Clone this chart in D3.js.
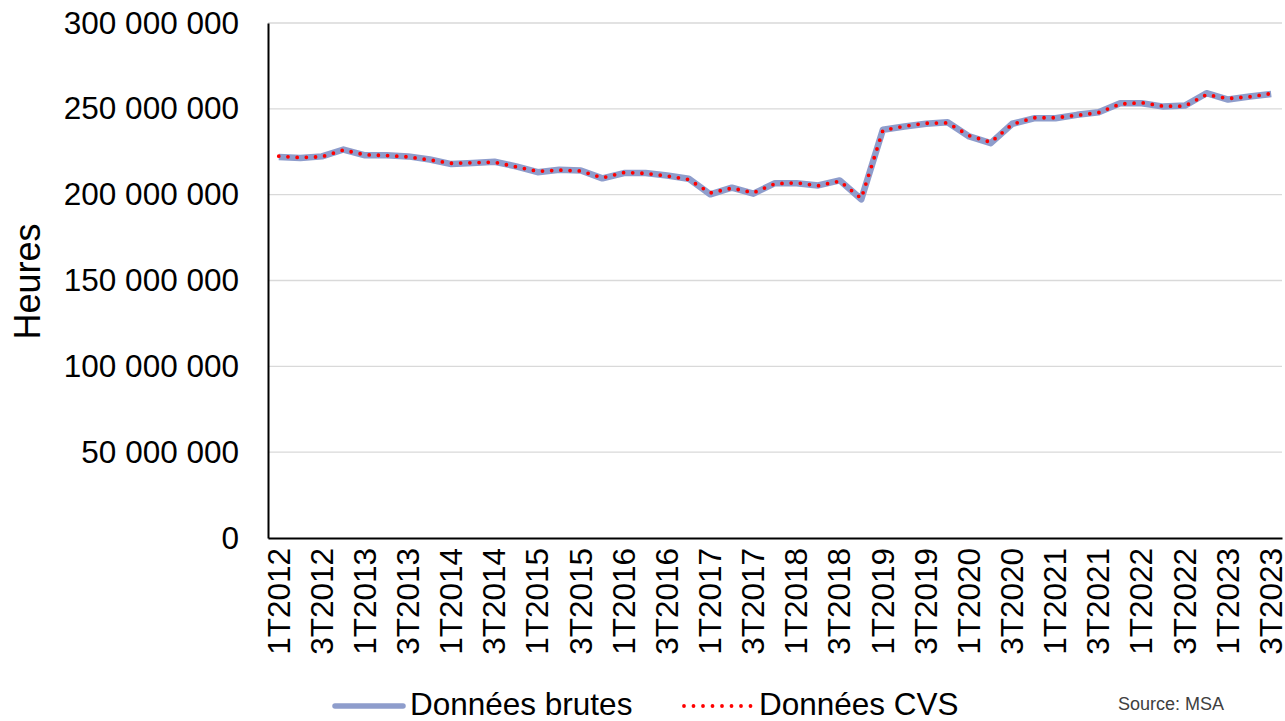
<!DOCTYPE html>
<html>
<head>
<meta charset="utf-8">
<script src="https://cdn.jsdelivr.net/npm/d3@7"></script>
<style>
  body { margin: 0; background: #fff; }
  svg { display: block; font-family: "Liberation Sans", Arial, sans-serif; }
</style>
</head>
<body>
<div id="chart"></div>
<script>
// quarters 1T2012 .. 3T2023
var years = [2012,2013,2014,2015,2016,2017,2018,2019,2020,2021,2022,2023];
var quarters = [];
years.forEach(function(y){
  for (var q = 1; q <= 4; q++) {
    if (y == 2023 && q == 4) continue;
    quarters.push(q + "T" + y);
  }
});

// values in millions of hours
var brutes = [221.9,221.3,222.3,226.3,222.9,223.0,222.3,220.5,217.8,218.4,219.2,216.5,
              213.1,214.5,214.1,209.5,212.6,212.6,211.2,209.3,200.2,204.1,200.6,206.7,
              206.7,205.4,208.3,197.3,237.8,239.7,241.3,242.2,233.9,230.0,241.3,244.5,
              244.5,246.5,248.0,253.3,253.3,251.3,251.9,259.1,255.4,257.2,258.7];
var cvs    = [222.4,221.6,222.1,226.0,223.2,222.8,222.0,220.2,218.3,218.6,218.9,216.2,
              213.6,214.3,213.8,209.8,212.9,212.4,210.9,208.8,201.0,203.8,201.1,206.4,
              206.9,205.2,207.9,197.8,237.4,239.9,241.6,241.8,234.4,230.5,241.0,244.8,
              244.8,246.2,247.8,252.8,253.6,251.5,251.6,258.3,256.0,257.0,258.9];

var yTicks = [0,50,100,150,200,250,300];

var width = 1285, height = 721;
var margin = {left: 268, right: 3, top: 23, bottom: 183};

var svg = d3.select("#chart")
  .append("svg")
    .attr("width", width)
    .attr("height", height);

var x = d3.scaleBand()
  .domain(quarters)
  .range([margin.left, width - margin.right]);

var y = d3.scaleLinear()
  .domain([0, 300])
  .range([height - margin.bottom, margin.top]);

var fmt = function(v){
  if (v == 0) return "0";
  return d3.format(",")(v * 1000000).replace(/,/g, " ");
};

// gridlines
svg.append("g")
  .selectAll("line")
  .data(yTicks.filter(function(d){ return d > 0; }))
  .join("line")
    .attr("x1", margin.left)
    .attr("x2", width - margin.right)
    .attr("y1", function(d){ return y(d); })
    .attr("y2", function(d){ return y(d); })
    .attr("stroke", "#d9d9d9")
    .attr("stroke-width", 1.3);

// y axis
var yAxis = svg.append("g")
  .attr("transform", "translate(" + margin.left + ",0)")
  .call(d3.axisLeft(y).tickValues(yTicks).tickSize(0).tickPadding(29).tickFormat(fmt));
yAxis.select(".domain").attr("stroke", "#000").attr("stroke-width", 2);
yAxis.selectAll("text")
  .attr("font-size", 31.5)
  .attr("fill", "#000")
  .attr("font-family", "Liberation Sans, Arial, sans-serif");

// x axis
var xAxis = svg.append("g")
  .attr("transform", "translate(0," + (height - margin.bottom) + ")")
  .call(d3.axisBottom(x)
    .tickValues(quarters.filter(function(d, i){ return i % 2 == 0; }))
    .tickSize(0)
    .tickSizeOuter(0));
xAxis.select(".domain").attr("stroke", "#000").attr("stroke-width", 2);
xAxis.selectAll("text")
  .attr("font-size", 31.5)
  .attr("fill", "#000")
  .attr("font-family", "Liberation Sans, Arial, sans-serif")
  .attr("transform", "rotate(-90)")
  .attr("text-anchor", "end")
  .attr("x", -10)
  .attr("y", 0)
  .attr("dy", "0.34em");

// axis title
svg.append("text")
  .attr("transform", "translate(40," + ((margin.top + height - margin.bottom) / 2 + 1) + ") rotate(-90)")
  .attr("text-anchor", "middle")
  .attr("font-size", 36)
  .attr("fill", "#000")
  .text("Heures");

var line = function(vals){
  return d3.line()
    .x(function(d, i){ return x(quarters[i]) + x.bandwidth() / 2; })
    .y(function(d){ return y(d); })(vals);
};

svg.append("path")
  .attr("d", line(brutes))
  .attr("fill", "none")
  .attr("stroke", "#8e9dcc")
  .attr("stroke-width", 6.5)
  .attr("stroke-linejoin", "round");

svg.append("path")
  .attr("d", line(cvs))
  .attr("fill", "none")
  .attr("stroke", "#ff0000")
  .attr("stroke-width", 3.8)
  .attr("stroke-linecap", "round")
  .attr("stroke-dasharray", "0 9.2");

// legend
var leg = svg.append("g");
leg.append("line")
  .attr("x1", 335).attr("x2", 403)
  .attr("y1", 706).attr("y2", 706)
  .attr("stroke", "#8e9dcc")
  .attr("stroke-width", 5.5)
  .attr("stroke-linecap", "round");
leg.append("text")
  .attr("x", 410).attr("y", 715)
  .attr("font-size", 31.5)
  .attr("fill", "#000")
  .text("Données brutes");
leg.append("line")
  .attr("x1", 684).attr("x2", 752)
  .attr("y1", 706).attr("y2", 706)
  .attr("stroke", "#ff0000")
  .attr("stroke-width", 3.8)
  .attr("stroke-linecap", "round")
  .attr("stroke-dasharray", "0 9.5");
leg.append("text")
  .attr("x", 759).attr("y", 715)
  .attr("font-size", 31.5)
  .attr("fill", "#000")
  .text("Données CVS");

svg.append("text")
  .attr("x", 1118).attr("y", 710)
  .attr("font-size", 18)
  .attr("fill", "#404040")
  .text("Source: MSA");
</script>
</body>
</html>
